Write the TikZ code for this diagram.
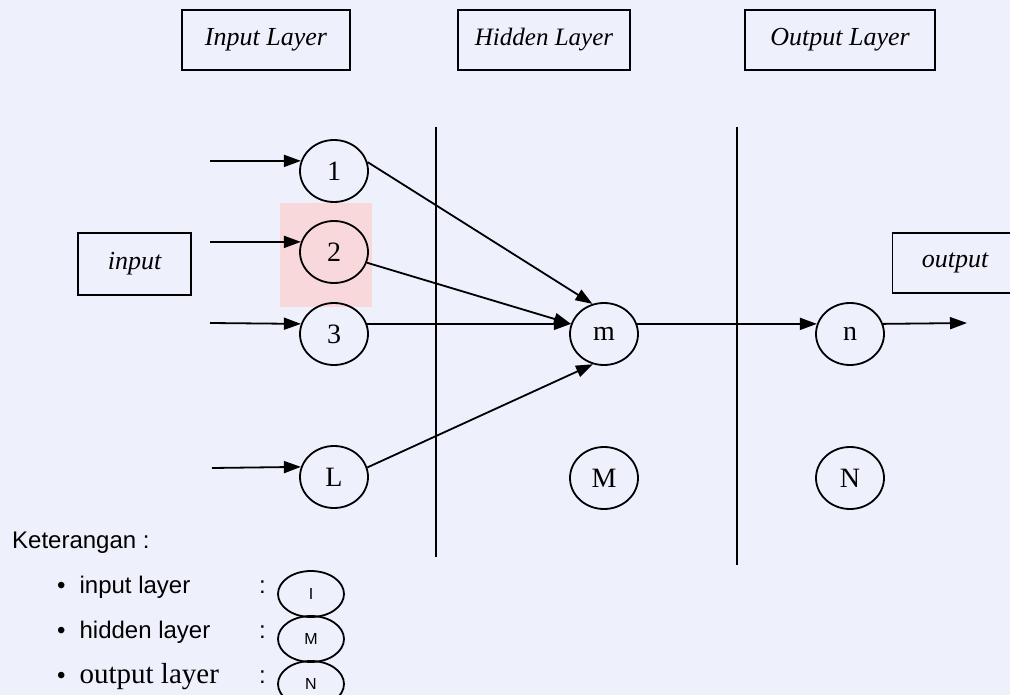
\documentclass[tikz,border=0pt]{standalone}
\usepackage{fontspec}
\setmainfont{Liberation Serif}
\setsansfont{Liberation Sans}
\usetikzlibrary{shapes.geometric,arrows.meta}
\definecolor{bgc}{HTML}{EEF0FB}
\definecolor{pinkc}{HTML}{F8D8DA}
\begin{document}
\begin{tikzpicture}[x=1pt,y=-1pt,
  neuron/.style={ellipse,draw,line width=1.8pt,minimum width=68pt,minimum height=62pt,inner sep=0pt,font=\fontsize{28}{30}\selectfont},
  lbox/.style={draw,line width=1.6pt,font=\fontsize{26}{28}\selectfont\itshape,inner sep=0pt},
  conn/.style={line width=1.8pt,-{Triangle[length=17pt,width=12pt]}},
  vline/.style={line width=1.8pt},
  leg/.style={anchor=west,inner sep=0pt,font=\fontsize{24}{26}\selectfont\sffamily},
  smallnode/.style={ellipse,draw,line width=1.8pt,minimum width=66pt,minimum height=46pt,inner sep=0pt,font=\fontsize{16}{18}\selectfont\sffamily}]
\useasboundingbox (0,0) rectangle (1010,695);
\fill[bgc] (0,0) rectangle (1010,695);
\clip (0,0) rectangle (1010,695);
\fill[pinkc] (280,203) rectangle (372,307);

% title boxes
\node[lbox,minimum width=168pt,minimum height=60pt] (tIn) at (266,40) {Input Layer};
\node[lbox,minimum width=172pt,minimum height=60pt,font=\fontsize{25}{27}\selectfont\itshape] (tHid) at (544,40) {Hidden Layer};
\node[lbox,minimum width=190pt,minimum height=60pt] (tOut) at (840,40) {Output Layer};
\node[lbox,minimum width=113pt,minimum height=62pt] (inp) at (134.5,264) {input};
\node[lbox,minimum width=125pt,minimum height=60pt] (outp) at (955,263) {output};

% vertical separators
\draw[vline] (436,127) -- (436,557);
\draw[vline] (737,127) -- (737,565);

% neurons
\node[neuron] (i1) at (334,171) {1};
\node[neuron] (i2) at (334,252) {2};
\node[neuron] (i3) at (334,334) {3};
\node[neuron] (iL) at (334,477) {L};
\node[neuron] (m) at (604,334) {m};
\node[neuron] (hM) at (604,478) {M};
\node[neuron] (n) at (850,334) {n};
\node[neuron] (oN) at (850,478) {N};

% input arrows
\coordinate (a1) at (210,161);
\coordinate (a2) at (210,242);
\coordinate (a3) at (210,323);
\coordinate (aL) at (212,468);
\draw[conn] (a1) -- (i1.163);
\draw[conn] (a2) -- (i2.163);
\draw[conn] (a3) -- (i3.163);
\draw[conn] (aL) -- (iL.163);

% to hidden
\draw[conn] (i1.15) -- (m.111);
\draw[conn] (i2.-18) -- (m.163);
\draw[conn] (i3.17) -- (m.163);
\draw[conn] (iL.16) -- (m.250);
\draw[conn] (m.17) -- (n.163);
\coordinate (oend) at (967,323);
\draw[conn] (n.17) -- (oend);

% legend
\node[leg] (ket) at (12,543) {Keterangan :};
\node[leg] (l1) at (57,587) {\textbullet\hspace{14pt}input layer};
\node[leg] (l2) at (57,632) {\textbullet\hspace{14pt}hidden layer};
\node[leg] (l3) at (57,677) {\textbullet\hspace{14pt}{\rmfamily\fontsize{29}{31}\selectfont output layer}};
\node[leg] (c1) at (259,587) {:};
\node[leg] (c2) at (259,632) {:};
\node[leg] (c3) at (259,677) {:};
\node[smallnode] (s1) at (311,594) {I};
\node[smallnode] (s2) at (311,639) {M};
\node[smallnode] (s3) at (311,684) {N};
\end{tikzpicture}
\end{document}
